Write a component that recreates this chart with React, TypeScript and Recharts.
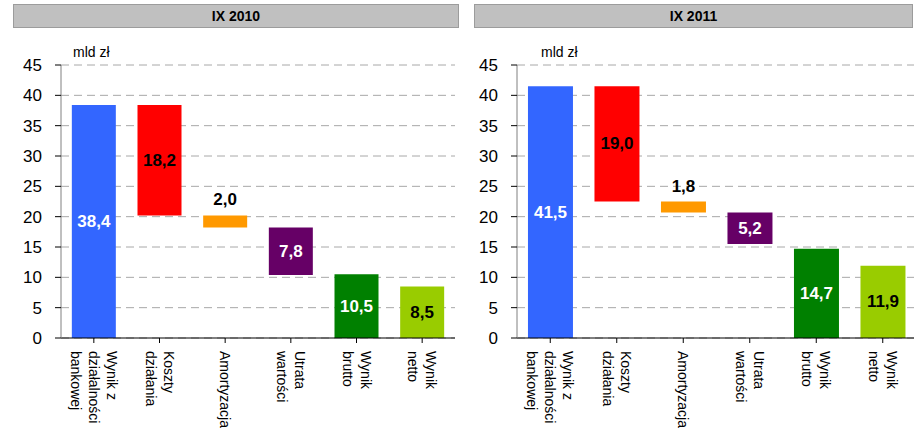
import React from "react";
import { BarChart, Bar, XAxis, YAxis, CartesianGrid, Cell, LabelList } from "recharts";

const categories = [
  "Wynik z\ndziałalności\nbankowej",
  "Koszty\ndziałania",
  "Amortyzacja",
  "Utrata\nwartości",
  "Wynik\nbrutto",
  "Wynik\nnetto",
];
// "total" bars stand on zero, "decrease" bars hang from the running total
const barKinds = ["total", "decrease", "decrease", "decrease", "total", "total"];
const values2010 = [38.4, 18.2, 2.0, 7.8, 10.5, 8.5];
const values2011 = [41.5, 19.0, 1.8, 5.2, 14.7, 11.9];
const yTicks = [0, 5, 10, 15, 20, 25, 30, 35, 40, 45];
const unitLabel = "mld zł";
const panelTitles = ["IX 2010", "IX 2011"];

const BAR_COLORS = ["#3366FF", "#FF0000", "#FF9900", "#660066", "#008000", "#99CC00"];
const LABEL_COLORS = ["#FFFFFF", "#000000", "#000000", "#FFFFFF", "#FFFFFF", "#000000"];
const FONT = "Arial, 'Liberation Sans', sans-serif";

function buildData(values: number[]) {
  let running = 0;
  return categories.map((name, i) => {
    let base = 0;
    if (barKinds[i] === "total") {
      base = 0;
      running = values[i];
    } else {
      base = running - values[i];
      running = base;
    }
    return { name, base, value: values[i] };
  });
}

const fmt = (v: number) => v.toFixed(1).replace(".", ",");

const XTick = (props: any) => {
  const { x, y, payload } = props;
  const lines = String(payload.value).split("\n");
  const lh = 18;
  const n = lines.length;
  return (
    <g transform={`translate(${x},${y})`}>
      {lines.map((ln, i) => (
        <text
          key={i}
          transform="rotate(90)"
          x={6}
          y={(i - (n - 1) / 2) * lh}
          textAnchor="start"
          dominantBaseline="central"
          fontFamily={FONT}
          fontSize={14}
          fill="#000"
        >
          {ln}
        </text>
      ))}
    </g>
  );
};

const BarLabel = (props: any) => {
  const { x, y, width, height, value, index } = props;
  const v = Number(value);
  const small = Math.abs(height) < 25;
  const cx = x + width / 2;
  const cy = small ? y - 10 : y + height / 2;
  return (
    <text
      x={cx}
      y={cy}
      textAnchor="middle"
      dominantBaseline={small ? "auto" : "central"}
      fontFamily={FONT}
      fontSize={17}
      fontWeight="bold"
      fill={small ? "#000" : LABEL_COLORS[index]}
    >
      {fmt(v)}
    </text>
  );
};

function Panel({ values, width, rightMargin }: { values: number[]; width: number; rightMargin: number }) {
  const data = buildData(values);
  return (
    <BarChart
      width={width}
      height={432}
      data={data}
      margin={{ top: 65, right: rightMargin, bottom: 0, left: 0 }}
      barCategoryGap="16.5%"
    >
      <CartesianGrid vertical={false} stroke="#a8a8a8" strokeDasharray="8 5" />
      <XAxis
        dataKey="name"
        interval={0}
        height={94}
        tick={<XTick />}
        tickSize={5}
        tickLine={{ stroke: "#000" }}
        axisLine={{ stroke: "#000" }}
      />
      <YAxis
        width={61}
        domain={[0, 45]}
        ticks={yTicks}
        interval={0}
        tickSize={6}
        tickMargin={13}
        tick={{ fontSize: 17, fill: "#000", fontFamily: FONT }}
        tickLine={{ stroke: "#000" }}
        axisLine={{ stroke: "#808080" }}
      />
      <Bar dataKey="base" stackId="w" fill="transparent" isAnimationActive={false} />
      <Bar dataKey="value" stackId="w" isAnimationActive={false}>
        {data.map((_, i) => (
          <Cell key={i} fill={BAR_COLORS[i]} />
        ))}
        <LabelList dataKey="value" content={<BarLabel />} />
      </Bar>
    </BarChart>
  );
}

const headerStyle = (left: number, width: number): React.CSSProperties => ({
  position: "absolute",
  left,
  top: 4,
  width,
  height: 24,
  boxSizing: "border-box",
  background: "#C0C0C0",
  border: "1px solid #9C9C9C",
  fontFamily: FONT,
  fontWeight: "bold",
  fontSize: 14,
  lineHeight: "22px",
  textAlign: "center",
  color: "#000",
});

const unitStyle = (left: number): React.CSSProperties => ({
  position: "absolute",
  left,
  top: 44,
  fontFamily: FONT,
  fontSize: 14,
  color: "#000",
  lineHeight: "16px",
});

export default function App() {
  return (
    <div
      style={{
        position: "absolute",
        left: 0,
        top: 0,
        width: 914,
        height: 432,
        overflow: "hidden",
        background: "#fff",
      }}
    >
      <div style={{ position: "absolute", left: 0, top: 0 }}>
        <Panel values={values2010} width={460} rightMargin={5} />
      </div>
      <div style={{ position: "absolute", left: 456, top: 0 }}>
        <Panel values={values2011} width={460} rightMargin={0} />
      </div>
      <div style={headerStyle(13, 446)}>{panelTitles[0]}</div>
      <div style={headerStyle(474, 439)}>{panelTitles[1]}</div>
      <div style={unitStyle(73)}>{unitLabel}</div>
      <div style={unitStyle(541)}>{unitLabel}</div>
    </div>
  );
}
